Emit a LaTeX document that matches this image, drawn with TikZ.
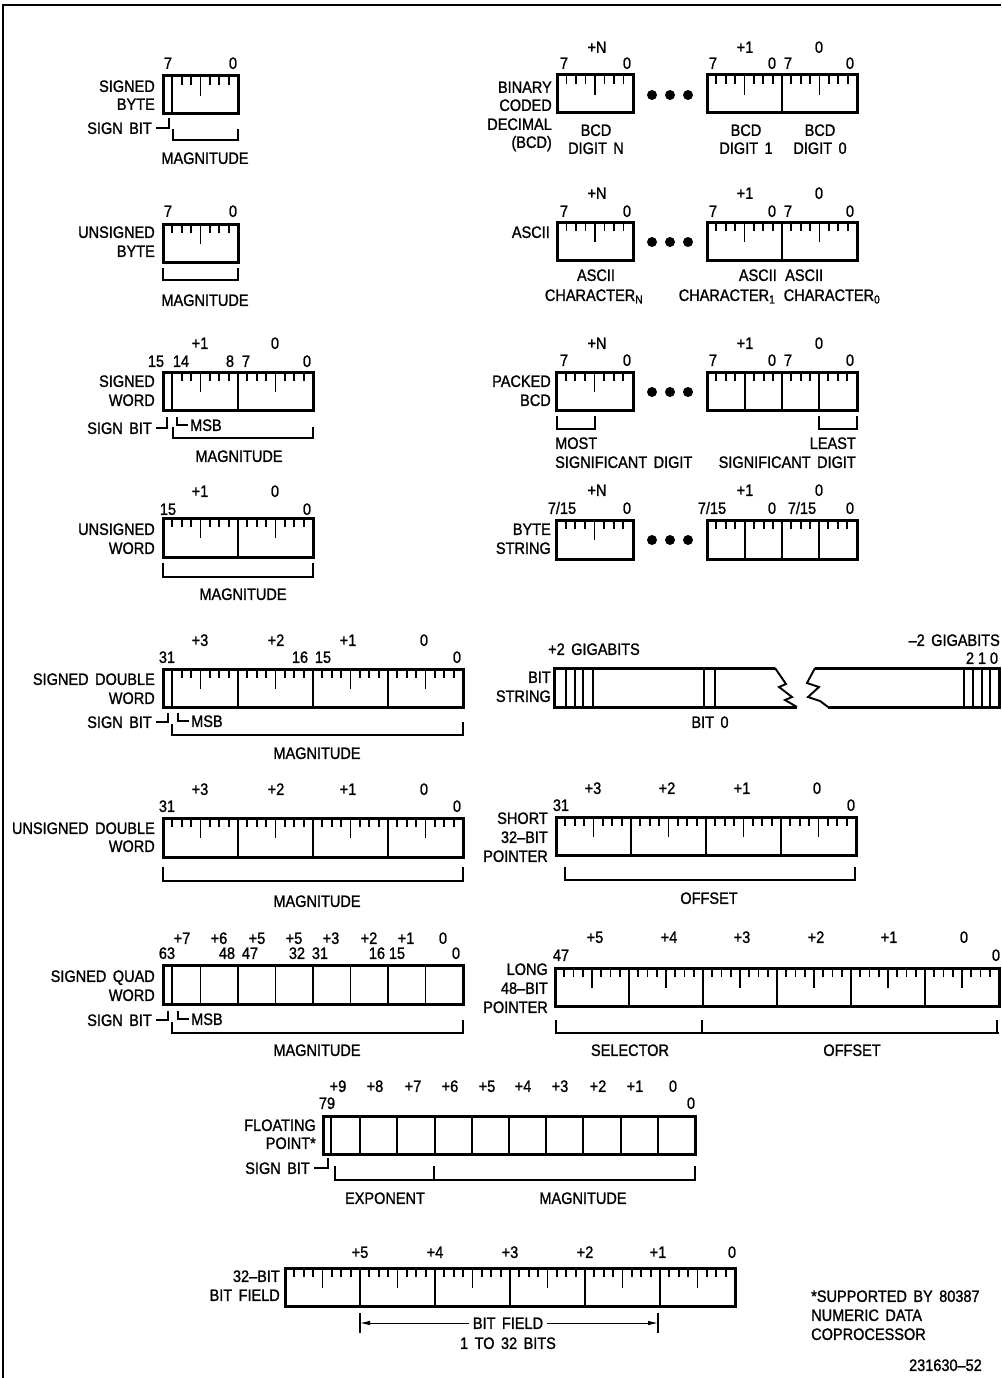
\documentclass[tikz,border=0pt]{standalone}
\usepackage{fontspec}
\setmainfont{Liberation Sans}[FakeStretch=0.88,FakeBold=1.2,WordSpace=1.6]
\usetikzlibrary{arrows.meta}
\newcounter{lbc}
\newcommand\fsz{\fontsize{16.5}{18}\selectfont}
\tikzset{
  lbl/.style={font=\fsz, inner sep=0pt, text height=11.8pt, text depth=0pt},
  regbox/.style={line width=3pt, line join=miter},
  divline/.style={line width=1.9pt},
  tk/.style={line width=1.8pt},
  brk/.style={line width=2pt},
  frameline/.style={line width=1.4pt},
  dimarrow/.style={line width=0.9pt, -{Latex[length=10pt,width=4.5pt]}},
}
\newcommand\tlab[3][]{\stepcounter{lbc}\node[lbl,#1] (t\arabic{lbc}) at (#2) {#3};}
\newcommand\elab[2]{\tlab[anchor=east]{#1}{#2}}
\newcommand\wlab[2]{\tlab[anchor=west]{#1}{#2}}
\newcommand\btk[4][1,2,3,5,6,7]{\foreach \k in {#1}{\draw[tk] ({#2+\k*#4/8},#3) -- ++(0,9);}\draw[tk] ({#2+#4/2},#3) -- ++(0,20);}
\newcommand\ntk[3]{\foreach \k in {1,2,3}{\draw[tk] ({#1+\k*#3/4},#2) -- ++(0,9);}}
\newcommand\dvl[3]{\draw[divline] (#1,#2) -- (#1,#3);}
\begin{document}
\begin{tikzpicture}[x=1pt,y=-1pt]
\useasboundingbox (0,0) rectangle (1001,1378);
\draw[frameline] (3,1378) -- (3,5) -- (1001,5);

% ---------- SIGNED BYTE
\draw[regbox] (163,76) rectangle (238,114);
\dvl{172.4}{76}{114}
\btk[2,3,5,6,7]{163}{76}{75}
\tlab{168,63}{7} \tlab{233,63}{0}
\elab{155,86}{SIGNED} \elab{155,104}{BYTE}
\node[lbl,anchor=east] (sb1) at (152,128) {SIGN BIT};
\draw[brk] ([xshift=4pt]sb1.east) -| (169,118);
\draw[brk] (172.5,129) -- (172.5,140) -- (238,140) -- (238,129);
\tlab{205,158}{MAGNITUDE}

% ---------- UNSIGNED BYTE
\draw[regbox] (163,224) rectangle (238,262);
\btk{163}{224}{75}
\tlab{168,211}{7} \tlab{233,211}{0}
\elab{155,232}{UNSIGNED} \elab{155,251}{BYTE}
\draw[brk] (163,268) -- (163,280) -- (238,280) -- (238,268);
\tlab{205,300}{MAGNITUDE}

% ---------- SIGNED WORD
\draw[regbox] (163,372) rectangle (313,410);
\dvl{172.4}{372}{410} \dvl{238}{372}{410}
\btk[2,3,5,6,7]{163}{372}{75} \btk{238}{372}{75}
\tlab{200,343}{+1} \tlab{275,343}{0}
\tlab{156,361}{15} \tlab{181,361}{14} \tlab{230,361}{8} \tlab{246,361}{7} \tlab{307,361}{0}
\elab{155,381}{SIGNED} \elab{155,400}{WORD}
\node[lbl,anchor=east] (sb2) at (152,428) {SIGN BIT};
\draw[brk] ([xshift=4pt]sb2.east) -| (167,417);
\node[lbl,anchor=west] (msb2) at (190,425) {MSB};
\draw[brk] ([xshift=-2pt]msb2.west) -| (177,417);
\draw[brk] (173,427) -- (173,438) -- (313,438) -- (313,427);
\tlab{239,456}{MAGNITUDE}

% ---------- UNSIGNED WORD
\draw[regbox] (163,518) rectangle (313,557);
\dvl{238}{518}{557}
\btk{163}{518}{75} \btk{238}{518}{75}
\tlab{200,491}{+1} \tlab{275,491}{0}
\tlab{168,509}{15} \tlab{307,509}{0}
\elab{155,529}{UNSIGNED} \elab{155,548}{WORD}
\draw[brk] (163,563) -- (163,577) -- (313,577) -- (313,563);
\tlab{243,594}{MAGNITUDE}

% ---------- SIGNED DOUBLE WORD
\draw[regbox] (163,669) rectangle (463,707);
\dvl{172.4}{669}{707}
\foreach \x in {238,313,388}{\dvl{\x}{669}{707}}
\btk[2,3,5,6,7]{163}{669}{75}
\foreach \x in {238,313,388}{\btk{\x}{669}{75}}
\tlab{200,640}{+3} \tlab{276,640}{+2} \tlab{348,640}{+1} \tlab{424,640}{0}
\tlab{167,657}{31} \tlab{300,657}{16} \tlab{323,657}{15} \tlab{457,657}{0}
\elab{155,679}{SIGNED DOUBLE} \elab{155,698}{WORD}
\node[lbl,anchor=east] (sb3) at (152,722) {SIGN BIT};
\draw[brk] ([xshift=4pt]sb3.east) -| (168,713);
\node[lbl,anchor=west] (msb3) at (191,721) {MSB};
\draw[brk] ([xshift=-2pt]msb3.west) -| (178,713);
\draw[brk] (172,724) -- (172,735) -- (463,735) -- (463,722);
\tlab{317,753}{MAGNITUDE}

% ---------- UNSIGNED DOUBLE WORD
\draw[regbox] (163,818) rectangle (463,857);
\foreach \x in {238,313,388}{\dvl{\x}{818}{857}}
\foreach \x in {163,238,313,388}{\btk{\x}{818}{75}}
\tlab{200,789}{+3} \tlab{276,789}{+2} \tlab{348,789}{+1} \tlab{424,789}{0}
\tlab{167,806}{31} \tlab{457,806}{0}
\elab{155,828}{UNSIGNED DOUBLE} \elab{155,846}{WORD}
\draw[brk] (163,867) -- (163,881) -- (463,881) -- (463,867);
\tlab{317,901}{MAGNITUDE}

% ---------- SIGNED QUAD WORD
\draw[regbox] (163,965) rectangle (463,1004);
\foreach \x in {172.4,200.5,238,275.5,313,350.5,388,425.5}{\dvl{\x}{965}{1004}}
\tlab{182,938}{+7} \tlab{219,938}{+6} \tlab{257,938}{+5} \tlab{294,938}{+5}
\tlab{331,938}{+3} \tlab{369,938}{+2} \tlab{406,938}{+1} \tlab{443,938}{0}
\tlab{167,953}{63} \tlab{227,953}{48} \tlab{250,953}{47} \tlab{297,953}{32}
\tlab{320,953}{31} \tlab{377,953}{16} \tlab{397,953}{15} \tlab{456,953}{0}
\elab{155,976}{SIGNED QUAD} \elab{155,995}{WORD}
\node[lbl,anchor=east] (sb4) at (152,1020) {SIGN BIT};
\draw[brk] ([xshift=4pt]sb4.east) -| (168,1011);
\node[lbl,anchor=west] (msb4) at (191,1019) {MSB};
\draw[brk] ([xshift=-2pt]msb4.west) -| (178,1011);
\draw[brk] (172,1022) -- (172,1033) -- (463,1033) -- (463,1020);
\tlab{317,1050}{MAGNITUDE}

% ---------- FLOATING POINT
\draw[regbox] (323,1116) rectangle (695,1154);
\dvl{331}{1116}{1154}
\foreach \k in {1,...,9}{\dvl{323+37.2*\k}{1116}{1154}}
\tlab{338,1086}{+9} \tlab{375,1086}{+8} \tlab{413,1086}{+7} \tlab{450,1086}{+6}
\tlab{487,1086}{+5} \tlab{523,1086}{+4} \tlab{560,1086}{+3} \tlab{598,1086}{+2}
\tlab{635,1086}{+1} \tlab{673,1086}{0}
\tlab{327,1103}{79} \tlab{691,1103}{0}
\elab{316,1125}{FLOATING} \elab{316,1143}{POINT*}
\node[lbl,anchor=east] (sb5) at (310,1168) {SIGN BIT};
\draw[brk] ([xshift=4pt]sb5.east) -| (328,1158);
\draw[brk] (335,1166) -- (335,1180) -- (695,1180) -- (695,1166);
\draw[brk] (434,1166) -- (434,1180);
\tlab{385,1198}{EXPONENT} \tlab{583,1198}{MAGNITUDE}

% ---------- 32-BIT BIT FIELD
\draw[regbox] (285,1268) rectangle (735,1306);
\foreach \x in {360,435,510,585,660}{\dvl{\x}{1268}{1306}}
\foreach \x in {285,360,435,510,585,660}{\btk{\x}{1268}{75}}
\tlab{360,1252}{+5} \tlab{435,1252}{+4} \tlab{510,1252}{+3} \tlab{585,1252}{+2}
\tlab{658,1252}{+1} \tlab{732,1252}{0}
\elab{280,1276}{32–BIT} \elab{280,1295}{BIT FIELD}
\draw[brk] (360,1313) -- (360,1333);
\draw[brk] (658,1313) -- (658,1333);
\coordinate (bfl) at (360,1323);
\coordinate (bfr) at (658,1323);
\node[lbl] (bf) at (508,1323) {BIT FIELD};
\draw[dimarrow] ([xshift=-4pt]bf.west) -- (bfl);
\draw[dimarrow] ([xshift=4pt]bf.east) -- (bfr);
\tlab{508,1343}{1 TO 32 BITS}

% footnote
\wlab{811,1296}{*SUPPORTED BY 80387}
\wlab{811,1315}{NUMERIC DATA}
\wlab{811,1334}{COPROCESSOR}
\elab{982,1365}{231630–52}

% ---------- BCD
\draw[regbox] (557,75) rectangle (633,113);
\btk{557}{75}{76}
\foreach \x in {652,670,688}{\fill (\x,95) circle (5pt);}
\draw[regbox] (707,75) rectangle (857,113);
\dvl{782}{75}{113}
\btk{707}{75}{75} \btk{782}{75}{75}
\tlab{597,47}{+N} \tlab{564,63}{7} \tlab{627,63}{0}
\tlab{745,47}{+1} \tlab{819,47}{0}
\tlab{713,63}{7} \tlab{772,63}{0} \tlab{788,63}{7} \tlab{850,63}{0}
\elab{552,87}{BINARY} \elab{552,105}{CODED} \elab{552,124}{DECIMAL} \elab{552,142}{(BCD)}
\tlab{596,130}{BCD} \tlab{596,148}{DIGIT N}
\tlab{746,130}{BCD} \tlab{746,148}{DIGIT 1}
\tlab{820,130}{BCD} \tlab{820,148}{DIGIT 0}

% ---------- ASCII
\draw[regbox] (557,222) rectangle (633,260);
\btk{557}{222}{76}
\foreach \x in {652,670,688}{\fill (\x,242) circle (5pt);}
\draw[regbox] (707,222) rectangle (857,260);
\dvl{782}{222}{260}
\btk{707}{222}{75} \btk{782}{222}{75}
\tlab{597,193}{+N} \tlab{564,211}{7} \tlab{627,211}{0}
\tlab{745,193}{+1} \tlab{819,193}{0}
\tlab{713,211}{7} \tlab{772,211}{0} \tlab{788,211}{7} \tlab{850,211}{0}
\elab{550,232}{ASCII}
\tlab{596,275}{ASCII} \tlab{594,295}{CHARACTER\textsubscript{N}}
\elab{777,275}{ASCII} \wlab{785,275}{ASCII}
\tlab{727,295}{CHARACTER\textsubscript{1}} \tlab{832,295}{CHARACTER\textsubscript{0}}

% ---------- PACKED BCD
\draw[regbox] (556,372) rectangle (633,410);
\btk{556}{372}{77}
\foreach \x in {652,670,688}{\fill (\x,392) circle (5pt);}
\draw[regbox] (707,372) rectangle (857,410);
\foreach \x in {745,782,819}{\dvl{\x}{372}{410}}
\foreach \x in {707,745,782,819}{\ntk{\x}{372}{37.5}}
\tlab{597,343}{+N} \tlab{564,360}{7} \tlab{627,360}{0}
\tlab{745,343}{+1} \tlab{819,343}{0}
\tlab{713,360}{7} \tlab{772,360}{0} \tlab{788,360}{7} \tlab{850,360}{0}
\elab{551,381}{PACKED} \elab{551,400}{BCD}
\draw[brk] (557,416) -- (557,429) -- (595,429) -- (595,416);
\draw[brk] (819,416) -- (819,429) -- (857,429) -- (857,416);
\wlab{555,443}{MOST} \wlab{555,462}{SIGNIFICANT DIGIT}
\elab{856,443}{LEAST} \elab{856,462}{SIGNIFICANT DIGIT}

% ---------- BYTE STRING
\draw[regbox] (556,520) rectangle (633,559);
\btk{556}{520}{77}
\foreach \x in {652,670,688}{\fill (\x,540) circle (5pt);}
\draw[regbox] (707,520) rectangle (857,559);
\foreach \x in {745,782,819}{\dvl{\x}{520}{559}}
\foreach \x in {707,745,782,819}{\ntk{\x}{520}{37.5}}
\tlab{597,490}{+N} \tlab{562,508}{7/15} \tlab{627,508}{0}
\tlab{745,490}{+1} \tlab{819,490}{0}
\tlab{712,508}{7/15} \tlab{772,508}{0} \tlab{802,508}{7/15} \tlab{850,508}{0}
\elab{551,529}{BYTE} \elab{551,548}{STRING}

% ---------- BIT STRING
\draw[regbox] (775,668) -- (554,668) -- (554,707) -- (797,707);
\draw[divline] (775,668) -- (786,684) -- (779,687) -- (792,697) -- (785,700) -- (797,707);
\foreach \x in {566,575,583,593,704,715}{\dvl{\x}{668}{707}}
\draw[regbox] (815,668) -- (1001,668);
\draw[regbox] (828,707) -- (1001,707);
\draw[regbox] (999,668) -- (999,707);
\draw[divline] (815,668) -- (807,683) -- (819,687) -- (808,697) -- (820,701) -- (828,707);
\foreach \x in {964,973,982,990}{\dvl{\x}{668}{707}}
\wlab{548,649}{+2 GIGABITS}
\elab{1000,640}{–2 GIGABITS}
\tlab{970,658}{2} \tlab{982,658}{1} \tlab{994,658}{0}
\elab{551,677}{BIT} \elab{551,696}{STRING}
\tlab{710,722}{BIT 0}

% ---------- SHORT 32-BIT POINTER
\draw[regbox] (556,817) rectangle (856,855);
\foreach \x in {631,706,781}{\dvl{\x}{817}{855}}
\foreach \x in {556,631,706,781}{\btk{\x}{817}{75}}
\tlab{593,788}{+3} \tlab{667,788}{+2} \tlab{742,788}{+1} \tlab{817,788}{0}
\tlab{561,805}{31} \tlab{851,805}{0}
\elab{548,818}{SHORT} \elab{548,837}{32–BIT} \elab{548,856}{POINTER}
\draw[brk] (565,867) -- (565,880) -- (855,880) -- (855,867);
\tlab{709,898}{OFFSET}

% ---------- LONG 48-BIT POINTER
\draw[regbox] (555,968) rectangle (999,1006);
\foreach \x in {629,703,777,851,925}{\dvl{\x}{968}{1006}}
\foreach \x in {555,629,703,777,851,925}{\btk{\x}{968}{74}}
\tlab{595,937}{+5} \tlab{669,937}{+4} \tlab{742,937}{+3} \tlab{816,937}{+2}
\tlab{889,937}{+1} \tlab{964,937}{0}
\tlab{561,955}{47} \tlab{996,955}{0}
\elab{548,969}{LONG} \elab{548,988}{48–BIT} \elab{548,1007}{POINTER}
\draw[brk] (556,1020) -- (556,1033) -- (999,1033);
\draw[brk] (702,1020) -- (702,1033);
\draw[brk] (997,1020) -- (997,1033);
\tlab{630,1050}{SELECTOR} \tlab{852,1050}{OFFSET}
\end{tikzpicture}
\end{document}
